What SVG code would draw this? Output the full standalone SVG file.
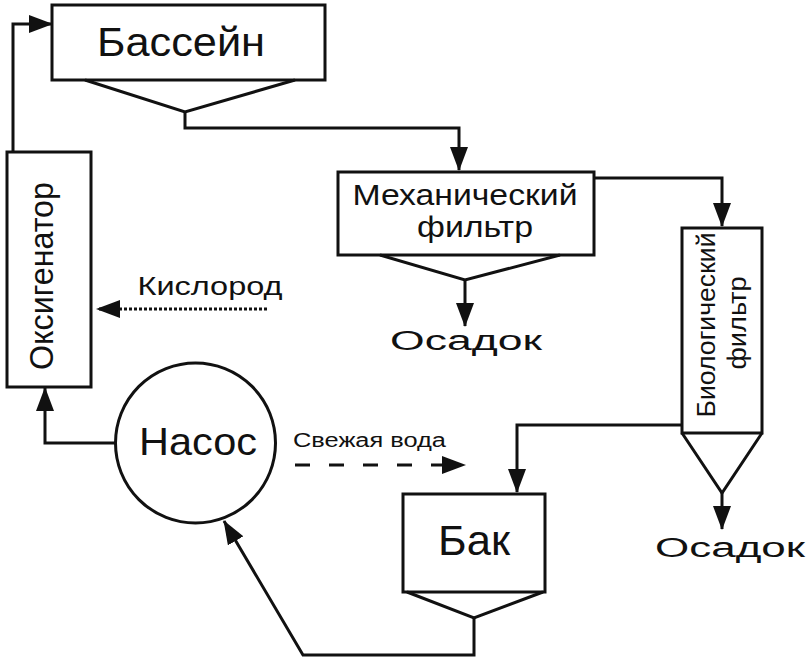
<svg xmlns="http://www.w3.org/2000/svg" width="808" height="662" viewBox="0 0 808 662">
<defs>
<marker id="ah" markerUnits="userSpaceOnUse" markerWidth="24" markerHeight="18" refX="23" refY="9" orient="auto" viewBox="0 0 24 18">
<path d="M0,0 L24,9 L0,18 z" fill="#111"/>
</marker>
<style>
.box{fill:none;stroke:#111;stroke-width:3}
.ln{fill:none;stroke:#111;stroke-width:3}
.t{font-family:"Liberation Sans",Arial,sans-serif;fill:#111}
</style>
</defs>
<rect width="808" height="662" fill="#fff"/>
<g id="connectors">
<path class="ln" d="M185,112 V128 H459 V170" marker-end="url(#ah)"/>
<path class="ln" d="M594,178 H722 V226" marker-end="url(#ah)"/>
<path class="ln" d="M465,280 V326" marker-end="url(#ah)"/>
<path class="ln" d="M722,493 V529" marker-end="url(#ah)"/>
<path class="ln" d="M682,425 H517 V492" marker-end="url(#ah)"/>
<path class="ln" d="M474,618 V655 H303 L224,521" marker-end="url(#ah)"/>
<path class="ln" d="M115,443 H45 V388" marker-end="url(#ah)"/>
<path class="ln" d="M13,152 V24 H52" marker-end="url(#ah)"/>
<path class="ln" d="M267,309 H97" stroke-dasharray="3 2" marker-end="url(#ah)"/>
<path class="ln" d="M295,465 H465" stroke-dasharray="15 19" marker-end="url(#ah)"/>
</g>
<g id="basseyn">
<rect class="box" x="52" y="5" width="273" height="75"/>
<path class="box" d="M85,80 L185,112 L295,80"/>
<text class="t" x="181" y="56" font-size="40" text-anchor="middle" textLength="168" lengthAdjust="spacingAndGlyphs">Бассейн</text>
</g>
<g id="mech-filter">
<rect class="box" x="338" y="172" width="256" height="83"/>
<path class="box" d="M380,255 L465,280 L560,255"/>
<text class="t" x="465" y="205" font-size="30" text-anchor="middle" textLength="225" lengthAdjust="spacingAndGlyphs">Механический</text>
<text class="t" x="475" y="237" font-size="30" text-anchor="middle" textLength="116" lengthAdjust="spacingAndGlyphs">фильтр</text>
</g>
<g id="osadok1">
<text class="t" x="466" y="350" font-size="27" text-anchor="middle" textLength="152" lengthAdjust="spacingAndGlyphs">Осадок</text>
</g>
<g id="bio-filter">
<rect class="box" x="682" y="228" width="80" height="205"/>
<path class="box" d="M682,433 L722,493 L762,433"/>
<text class="t" transform="translate(715,325) rotate(-90)" x="0" y="0" font-size="25" text-anchor="middle" textLength="185" lengthAdjust="spacingAndGlyphs">Биологический</text>
<text class="t" transform="translate(746,323) rotate(-90)" x="0" y="0" font-size="25" text-anchor="middle" textLength="93" lengthAdjust="spacingAndGlyphs">фильтр</text>
</g>
<g id="osadok2">
<text class="t" x="730" y="557" font-size="27" text-anchor="middle" textLength="150" lengthAdjust="spacingAndGlyphs">Осадок</text>
</g>
<g id="oxygenator">
<rect class="box" x="7" y="152" width="84" height="235"/>
<text class="t" transform="translate(53,276) rotate(-90)" x="0" y="0" font-size="33" text-anchor="middle" textLength="188" lengthAdjust="spacingAndGlyphs">Оксигенатор</text>
</g>
<g id="kislorod">
<text class="t" x="210" y="295" font-size="25" text-anchor="middle" textLength="145" lengthAdjust="spacingAndGlyphs">Кислород</text>
</g>
<g id="nasos">
<circle class="box" cx="195.5" cy="443" r="80"/>
<text class="t" x="198" y="455" font-size="39" text-anchor="middle" textLength="118" lengthAdjust="spacingAndGlyphs">Насос</text>
</g>
<g id="svezhaya-voda">
<text class="t" x="369.5" y="447" font-size="19.5" text-anchor="middle" textLength="153" lengthAdjust="spacingAndGlyphs">Свежая вода</text>
</g>
<g id="bak">
<rect class="box" x="403" y="494" width="142" height="98"/>
<path class="box" d="M407,592 L474,618 L543,592"/>
<text class="t" x="474" y="555" font-size="42" text-anchor="middle" textLength="72" lengthAdjust="spacingAndGlyphs">Бак</text>
</g>
</svg>
